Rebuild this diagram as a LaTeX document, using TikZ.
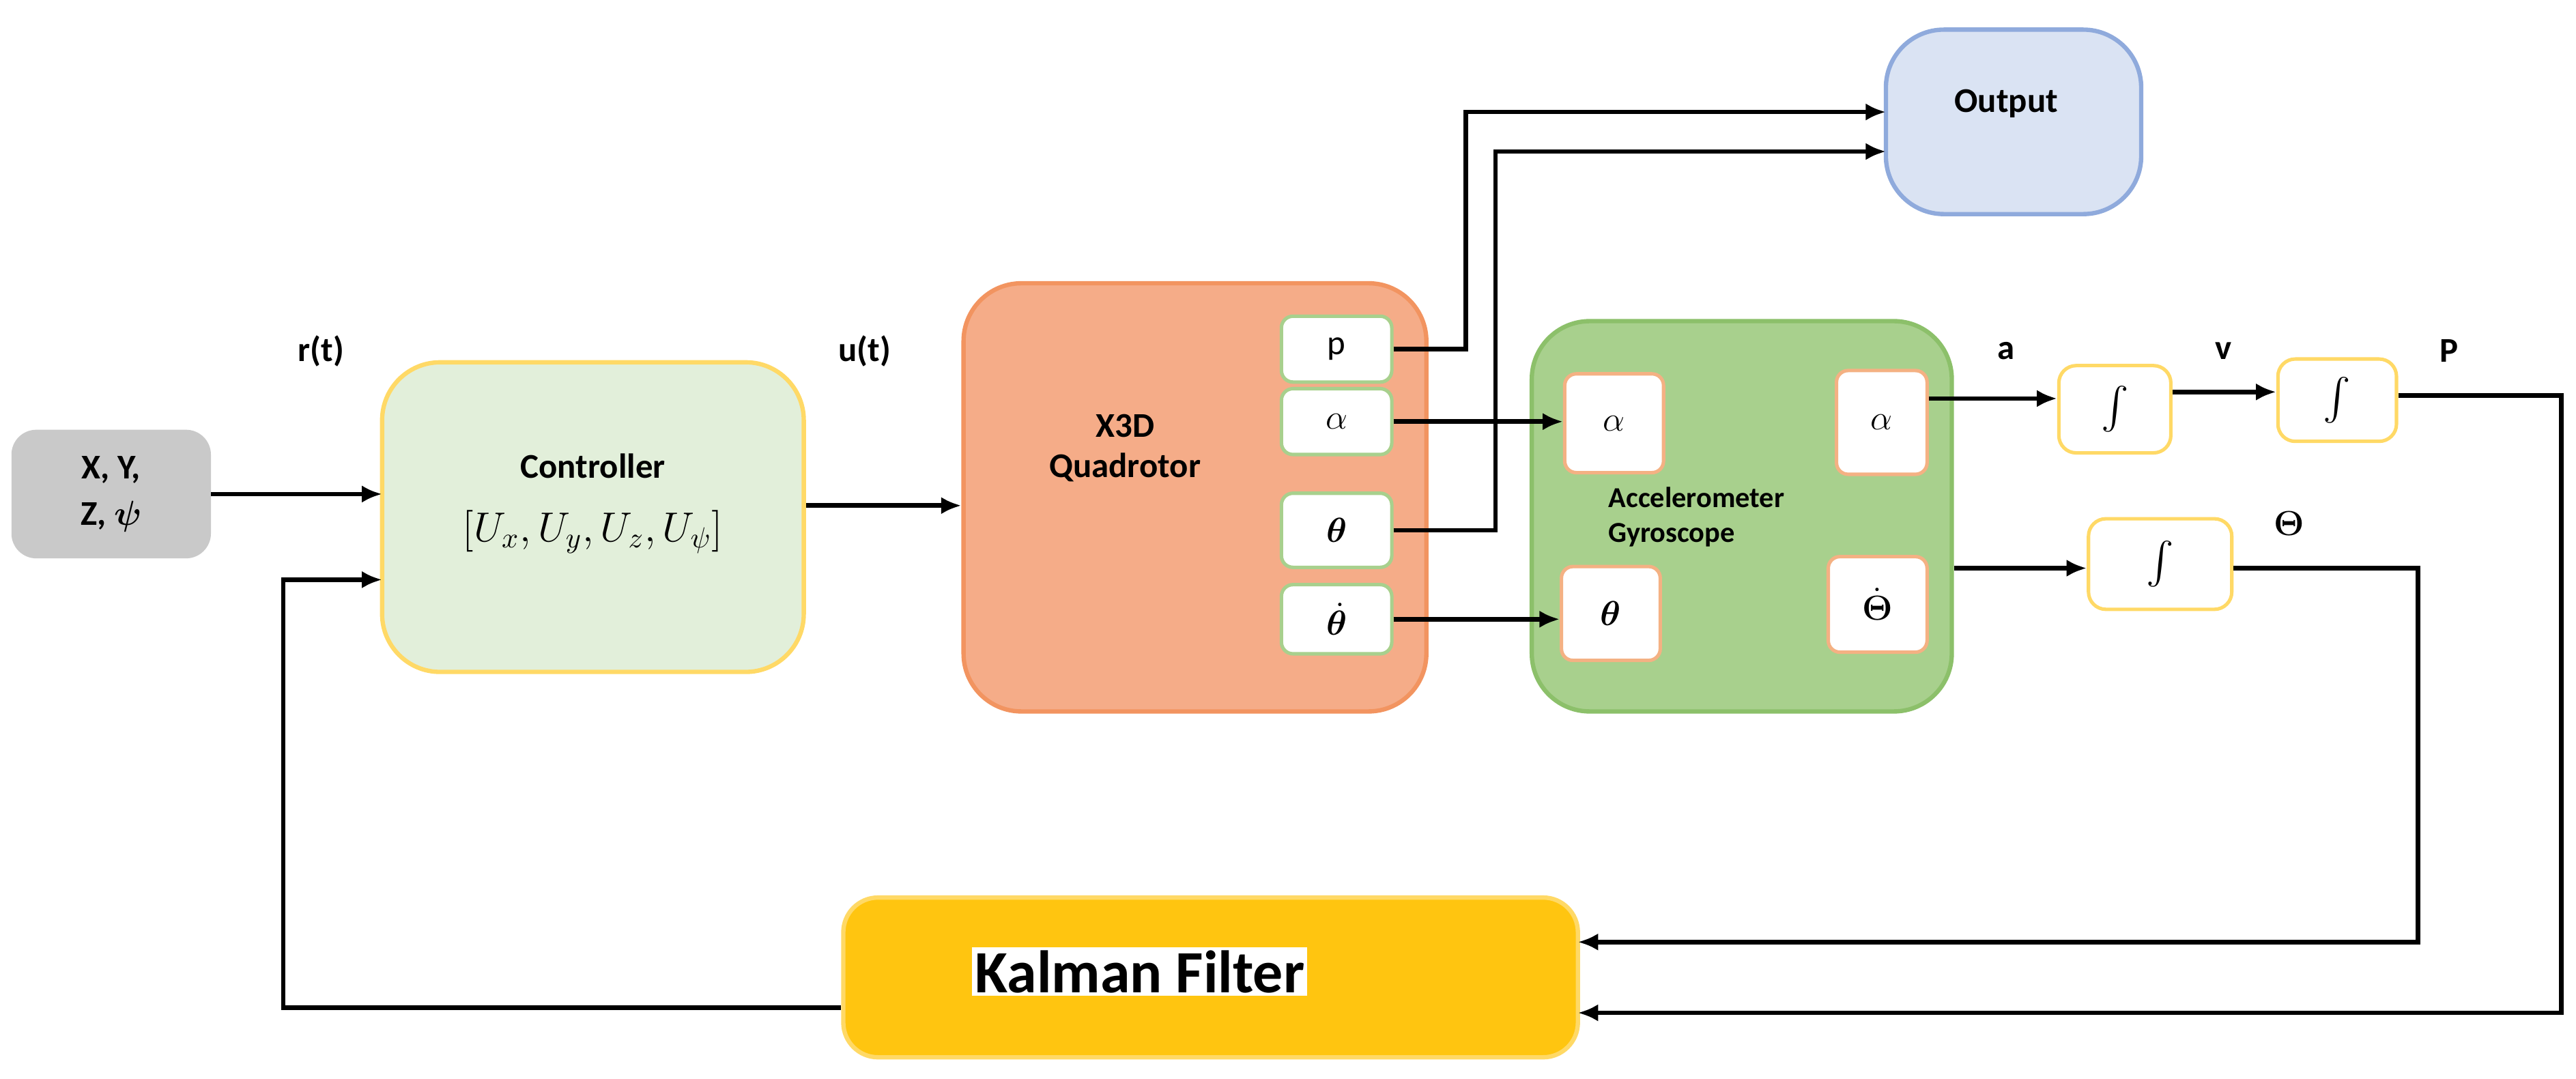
\documentclass[tikz,border=0pt]{standalone}
\usepackage{amsmath}
\usepackage{bm}
\usepackage{fontspec}
\setmainfont{Carlito}
\usetikzlibrary{arrows.meta}
\definecolor{qfill}{HTML}{F5AC88}\definecolor{qdraw}{HTML}{F29460}
\definecolor{afill}{HTML}{A8D08D}\definecolor{adraw}{HTML}{8CC06A}
\definecolor{cfill}{HTML}{E2EFDA}\definecolor{ydraw}{HTML}{FFD966}
\definecolor{gfill}{HTML}{C9C9C9}\definecolor{ofill}{HTML}{DAE3F3}\definecolor{odraw}{HTML}{8FAADC}
\definecolor{kfill}{HTML}{FFC510}\definecolor{idraw}{HTML}{F4B183}
\tikzset{
 box/.style={draw,rounded corners=8pt,line width=1.2pt,align=center,inner sep=0pt},
 blk/.style={box,rounded corners=20pt,line width=1.5pt},
 qin/.style={box,fill=white,draw=afill,rounded corners=4pt,font=\large},
 ain/.style={box,fill=white,draw=idraw,rounded corners=4pt,font=\large},
 intg/.style={box,fill=white,draw=ydraw,rounded corners=6pt},
 wire/.style={line width=1.6pt,-{Latex[length=7pt,width=6pt]}},
 lab/.style={font=\bfseries\large},
}
\begin{document}
\begin{tikzpicture}[x=0.02cm,y=-0.02cm]
\useasboundingbox (0,0) rectangle (1564,655);
% blocks
\node[box,fill=gfill,draw=gfill,minimum width=119*0.02cm,minimum height=76*0.02cm,font=\bfseries\large] (xyz) at (67.5,300) {X, Y,\\[2pt] Z, $\bm{\psi}$};
\node[blk,fill=cfill,draw=ydraw,minimum width=256*0.02cm,minimum height=188*0.02cm] (ctrl) at (360,314) {};
\node[font=\bfseries\large] (ctrlt) at (360,283) {Controller};
\node[font=\Large] (ctrlm) at (360,323) {$[U_x, U_y, U_z, U_\psi]$};
\node[blk,fill=qfill,draw=qdraw,minimum width=281*0.02cm,minimum height=260*0.02cm] (quad) at (725.5,302) {};
\node[font=\bfseries\large,align=center] (quadt) at (683,272) {X3D\\Quadrotor};
\node[qin,minimum width=67*0.02cm,minimum height=40*0.02cm] (qp) at (811.5,212) {p};
\node[qin,minimum width=67*0.02cm,minimum height=40*0.02cm] (qa) at (811.5,256) {$\alpha$};
\node[qin,minimum width=67*0.02cm,minimum height=45*0.02cm] (qt) at (811.5,322) {$\bm{\theta}$};
\node[qin,minimum width=67*0.02cm,minimum height=42*0.02cm] (qtd) at (811.5,376) {$\dot{\bm{\theta}}$};
\node[blk,fill=ofill,draw=odraw,minimum width=155*0.02cm,minimum height=112*0.02cm] (out) at (1222.5,74) {};
\node[font=\bfseries\large] (outt) at (1218,63) {Output};
\node[blk,fill=afill,draw=adraw,minimum width=255*0.02cm,minimum height=237*0.02cm] (acc) at (1057.5,313.5) {};
\node[font=\bfseries,align=left] (acct) at (1030,314) {Accelerometer\\Gyroscope};
\node[ain,minimum width=60*0.02cm,minimum height=60*0.02cm] (aa) at (980,257) {$\alpha$};
\node[ain,minimum width=55*0.02cm,minimum height=63*0.02cm] (ar) at (1142.5,256.5) {$\alpha$};
\node[ain,minimum width=60*0.02cm,minimum height=57*0.02cm] (at) at (978,372.5) {$\bm{\theta}$};
\node[ain,minimum width=60*0.02cm,minimum height=58*0.02cm] (atd) at (1140,367) {$\dot{\bm{\Theta}}$};
\node[intg,minimum width=68*0.02cm,minimum height=53*0.02cm,font=\Large] (i1) at (1284,248.5) {$\int$};
\node[intg,minimum width=72*0.02cm,minimum height=50*0.02cm,font=\Large] (i2) at (1419,243) {$\int$};
\node[intg,minimum width=87*0.02cm,minimum height=55*0.02cm,font=\Large] (i3) at (1311.5,342.5) {$\int$};
\node[blk,fill=kfill,draw=ydraw,rounded corners=12pt,minimum width=446*0.02cm,minimum height=97*0.02cm] (kal) at (735,593.5) {};
\node[fill=white,font=\bfseries\huge,inner sep=1pt] (kalt) at (692,590) {Kalman Filter};
% labels
\node[lab] (lr) at (195,213) {r(t)};
\node[lab] (lu) at (525,213) {u(t)};
\node[lab] (la) at (1218,213) {a};
\node[lab] (lv) at (1350,213) {v};
\node[lab] (lP) at (1487,213) {P};
\node[lab] (lT) at (1390,318) {$\bm{\Theta}$};
% coordinates
\coordinate (oin1) at (1145,68);
\coordinate (oin2) at (1145,92);
\coordinate (cin1) at (232,300);
\coordinate (cin2) at (232,352);
\coordinate (kin1) at (958,572);
\coordinate (kin2) at (958,615);
% wires
\draw[wire] (xyz.east) -- (cin1);
\draw[wire] (ctrl.east |- 0,307) -- (quad.west |- 0,307);
\draw[wire] (qp.east) -| (890,68) -- (oin1);
\draw[wire] (qt.east) -| (908,92) -- (oin2);
\draw[wire] (qa.east) -- (aa.west |- qa.east);
\draw[wire] (qtd.east) -- (at.west |- qtd.east);
\draw[wire] (ar.east |- 0,242) -- (i1.west |- 0,242);
\draw[wire] (i1.east |- 0,238) -- (i2.west |- 0,238);
\draw[wire] (i2.east |- 0,240) -| (1555,615) -- (kin2);
\draw[wire] (acc.east |- 0,345) -- (i3.west |- 0,345);
\draw[wire] (i3.east |- 0,345) -| (1468,572) -- (kin1);
\draw[wire] (kal.west |- 0,612) -| (172,352) -- (cin2);
\end{tikzpicture}
\end{document}
